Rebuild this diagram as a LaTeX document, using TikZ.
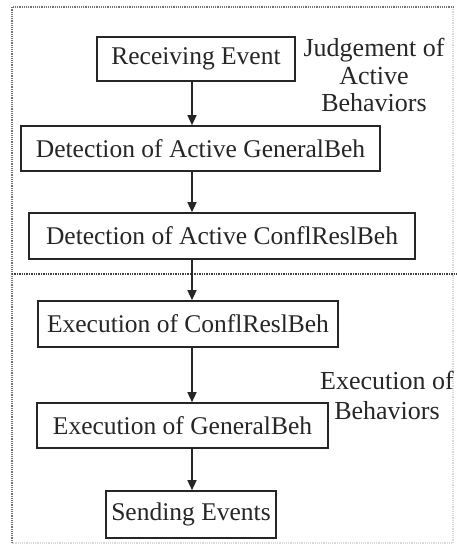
\documentclass[tikz,border=0pt]{standalone}
\usepackage{fontspec}
\setmainfont{Liberation Serif}
\usetikzlibrary{arrows.meta}
\begin{document}
\begin{tikzpicture}[x=1pt,y=-1pt,
  stepbox/.style={draw=black!85,line width=1.6pt,fill=white,inner sep=0pt,
    font=\fontsize{25.5}{28}\selectfont,text=black!85},
  arr/.style={line width=1.4pt,draw=black!85,-{Triangle[length=10pt,width=9pt]}},
  lbl/.style={align=center,inner sep=0pt,text=black!85},
  frame/.style={densely dotted,line width=1.2pt,draw=black!55},
  faint/.style={densely dotted,line width=1.2pt,draw=black!15}]
\useasboundingbox (0,0) rectangle (457,550);
% frame
\coordinate (tl) at (12,7);
\coordinate (tr) at (453,7);
\coordinate (br) at (453,543);
\coordinate (bl) at (12,543);
\draw[faint] (tr) -- (br) -- (bl);
\draw[frame] (bl) -- (tl) -- (tr);
\coordinate (ml) at (12,274);
\coordinate (mr) at (457,274);
\draw[densely dotted,line width=1.4pt,draw=black!75] (ml) -- (mr);
% boxes
\node[stepbox,minimum width=198pt,minimum height=44pt] (n1) at (196,59) {Receiving Event};
\node[stepbox,minimum width=359pt,minimum height=45pt] (n2) at (200.5,148.5) {Detection of Active GeneralBeh};
\node[stepbox,minimum width=386pt,minimum height=46pt] (n3) at (222,236) {Detection of Active ConflReslBeh};
\node[stepbox,minimum width=300pt,minimum height=46pt] (n4) at (188,324) {Execution of ConflReslBeh};
\node[stepbox,minimum width=291pt,minimum height=45pt] (n5) at (182.5,425.5) {Execution of GeneralBeh};
\node[stepbox,minimum width=170pt,minimum height=47pt] (n6) at (191,514.5) {Sending Events};
% connectors
\coordinate (ax) at (192,0);
\draw[arr] (n1.south -| ax) -- (n2.north -| ax);
\draw[arr] (n2.south -| ax) -- (n3.north -| ax);
\draw[arr] (n3.south -| ax) -- (n4.north -| ax);
\draw[arr] (n4.south -| ax) -- (n5.north -| ax);
\draw[arr] (n5.south -| ax) -- (n6.north -| ax);
% labels
\node[lbl,font=\fontsize{26}{27.5}\selectfont] (l1) at (374,75) {Judgement of\\Active\\Behaviors};
\node[lbl,font=\fontsize{26}{30}\selectfont] (l2) at (387,395) {Execution of\\Behaviors};
\end{tikzpicture}
\end{document}
